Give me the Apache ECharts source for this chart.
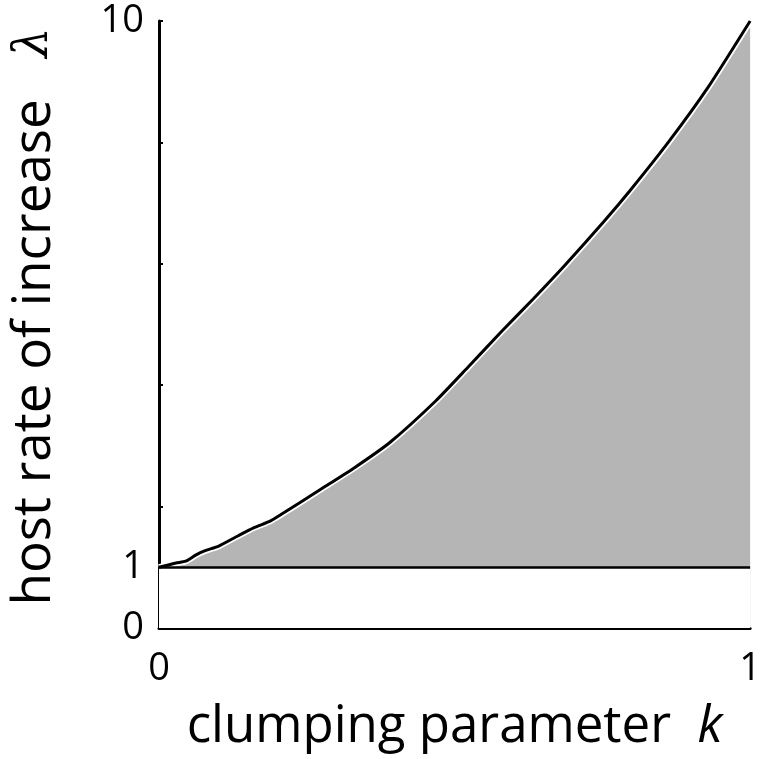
<!DOCTYPE html>
<html>
<head>
<meta charset="utf-8">
<script src="https://cdn.jsdelivr.net/npm/echarts@6/dist/echarts.min.js"></script>
<style>
  html, body { margin: 0; padding: 0; background: #fff; }
  #chart { width: 764px; height: 759px; }
</style>
</head>
<body>
<div id="chart"></div>
<script>
// stability boundary
var kValues = [0, 0.029, 0.045, 0.062, 0.077, 0.101, 0.134, 0.160, 0.188, 0.205, 0.271, 0.332, 0.391, 0.468, 0.523, 0.579, 0.633, 0.687, 0.753, 0.798, 0.863, 0.929, 1.0];
var lambdaValues = [1.0, 1.07, 1.10, 1.20, 1.27, 1.35, 1.52, 1.65, 1.76, 1.86, 2.27, 2.65, 3.06, 3.74, 4.30, 4.88, 5.42, 5.98, 6.70, 7.22, 8.02, 8.91, 10.0];
var threshold = 1;
var yLabels = [0, 1, 10];
var yTicks = [2, 4, 6, 8, 10];
var xLabels = [0, 1];

var chart = echarts.init(document.getElementById('chart'));

var curve = kValues.map(function (k, i) { return [k, lambdaValues[i]]; });
var baseData = [[0, threshold], [1, threshold]];

var font = 'Open Sans';

var option = {
    animation: false,
    grid: { left: 155, right: 1, top: 21, bottom: 131 },
    xAxis: {
        type: 'value',
        min: 0,
        max: 1,
        name: 'clumping parameter  {i|k}',
        nameLocation: 'middle',
        nameGap: 74,
        nameTextStyle: {
            fontFamily: font, fontSize: 51, color: '#000',
            rich: { i: { fontFamily: font, fontStyle: 'italic', fontSize: 51, color: '#000' } }
        },
        axisLine: { lineStyle: { color: '#000', width: 3 } },
        axisTick: { show: false },
        splitLine: { show: false },
        axisLabel: {
            customValues: xLabels,
            fontFamily: font, fontSize: 38, color: '#000', margin: 22
        }
    },
    yAxis: {
        type: 'value',
        min: 0,
        max: 10,
        name: 'host rate of increase   {l|λ}',
        nameLocation: 'middle',
        nameRotate: 90,
        nameGap: 98,
        nameTextStyle: {
            fontFamily: font, fontSize: 53, color: '#000',
            padding: [0, 0, 0, 16],
            rich: { l: { fontFamily: 'DejaVu Serif', fontStyle: 'italic', fontSize: 48, color: '#000' } }
        },
        axisLine: { lineStyle: { color: '#000', width: 3 } },
        axisTick: { customValues: yTicks, inside: true, length: 4, lineStyle: { color: '#000', width: 2 } },
        splitLine: { show: false },
        axisLabel: {
            customValues: yLabels,
            fontFamily: font, fontSize: 38, color: '#000', margin: 15
        }
    },
    series: [
        {
            // shaded region under the boundary
            type: 'line', data: curve, symbol: 'none', smooth: 0.2,
            lineStyle: { width: 0, opacity: 0 },
            areaStyle: { color: '#b5b5b5', opacity: 1, origin: 'start' }, silent: true
        },
        {
            // blank band below lambda = 1
            type: 'line', data: baseData, symbol: 'none',
            lineStyle: { width: 0, opacity: 0 },
            areaStyle: { color: '#fff', opacity: 1, origin: 'start' }, silent: true
        },
        {
            // white halo under the boundary
            type: 'line', data: curve, symbol: 'none', smooth: 0.2,
            lineStyle: { color: '#fff', width: 6.5 }, silent: true
        },
        {
            type: 'line', data: curve, symbol: 'none', smooth: 0.2,
            lineStyle: { color: '#000', width: 3 },
            markLine: {
                silent: true, symbol: 'none', label: { show: false },
                lineStyle: { color: '#000', width: 2.5, type: 'solid' },
                data: [{ yAxis: threshold }]
            }
        }
    ]
};

chart.setOption(option);
</script>
</body>
</html>
